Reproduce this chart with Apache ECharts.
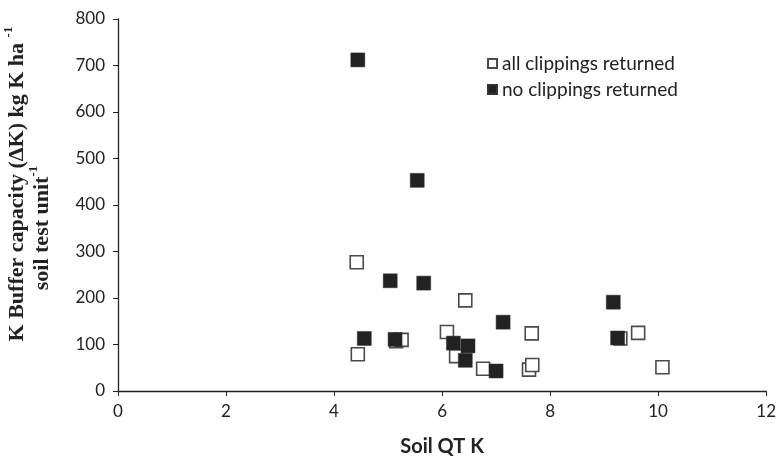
<!DOCTYPE html>
<html>
<head>
<meta charset="utf-8">
<script src="https://cdn.jsdelivr.net/npm/echarts@6/dist/echarts.min.js"></script>
<style>html,body{margin:0;padding:0;background:#fff;}#c{width:779px;height:462px;}</style>
</head>
<body>
<div id="c"></div>
<script>
var seriesNames = ['all clippings returned', 'no clippings returned'];
var allX = [4.42, 4.44, 5.15, 5.25, 6.09, 6.43, 6.26, 6.76, 7.61, 7.67, 7.66, 9.30, 9.63, 10.08];
var allY = [277, 79, 107, 110, 127, 195, 75, 48, 46, 56, 124, 113, 125, 51];
var noX = [4.44, 4.56, 5.04, 5.13, 5.54, 5.66, 6.21, 6.48, 6.43, 7.00, 7.13, 9.17, 9.25];
var noY = [712, 113, 237, 111, 453, 232, 103, 97, 66, 43, 148, 191, 114];
var xTitle = 'Soil QT K';
var yTitle1 = 'K Buffer capacity (ΔK) kg K ha ';
var yTitle2 = 'soil test unit';
var sup = '-1';

function pairs(xs, ys) { return xs.map(function (x, i) { return [x, ys[i]]; }); }

var chart = echarts.init(document.getElementById('c'));
var labelFont = 'Lato, "Open Sans", sans-serif';
var serif = '"Liberation Serif", "DejaVu Serif", serif';
function titleRich() {
  return {
    a: { fontSize: 22, fontWeight: 'bold', fontFamily: serif, fill: '#222', lineHeight: 26, verticalAlign: 'bottom' },
    s: { fontSize: 13, fontWeight: 'bold', fontFamily: serif, fill: '#222', verticalAlign: 'top', lineHeight: 26 }
  };
}
chart.setOption({
  animation: false,
  backgroundColor: '#fff',
  grid: { left: 118, right: 9, top: 19, bottom: 70 },
  xAxis: {
    type: 'value', min: 0, max: 12, interval: 2,
    axisLine: { show: true, onZero: false, lineStyle: { color: '#222', width: 1.3 } },
    axisTick: { show: true, inside: false, length: 5, lineStyle: { color: '#222' } },
    axisLabel: { margin: 12, color: '#222', fontSize: 17, fontFamily: labelFont },
    splitLine: { show: false },
    name: xTitle, nameLocation: 'middle', nameGap: 46,
    nameTextStyle: { fontSize: 20, fontWeight: 'bold', color: '#222', fontFamily: labelFont }
  },
  yAxis: {
    type: 'value', min: 0, max: 800, interval: 100,
    axisLine: { show: true, lineStyle: { color: '#222', width: 1.3 } },
    axisTick: { show: true, inside: false, length: 5, lineStyle: { color: '#222' } },
    axisLabel: { margin: 13, color: '#222', fontSize: 17, fontFamily: labelFont },
    splitLine: { show: false }
  },
  legend: {
    orient: 'vertical', left: 482, top: 49, itemGap: 7,
    itemWidth: 9, itemHeight: 9,
    textStyle: { fontSize: 19, color: '#222', fontFamily: labelFont },
    data: seriesNames
  },
  graphic: [
    {
      type: 'text', x: 15, y: 184, rotation: Math.PI / 2,
      style: {
        text: '{a|' + yTitle1 + '}{s|' + sup + '}',
        align: 'center', verticalAlign: 'middle',
        rich: titleRich()
      }
    },
    {
      type: 'text', x: 40, y: 228, rotation: Math.PI / 2,
      style: {
        text: '{a|' + yTitle2 + '}{s|' + sup + '}',
        align: 'center', verticalAlign: 'middle',
        rich: titleRich()
      }
    }
  ],
  series: [
    {
      name: seriesNames[0], type: 'scatter', symbol: 'rect', symbolSize: 13,
      itemStyle: { color: '#fff', borderColor: '#4a4a4a', borderWidth: 1.6, opacity: 1 },
      data: pairs(allX, allY)
    },
    {
      name: seriesNames[1], type: 'scatter', symbol: 'rect', symbolSize: 14,
      itemStyle: { color: '#222', borderColor: '#333', borderWidth: 0.5, opacity: 1 },
      data: pairs(noX, noY)
    }
  ]
});
</script>
</body>
</html>
